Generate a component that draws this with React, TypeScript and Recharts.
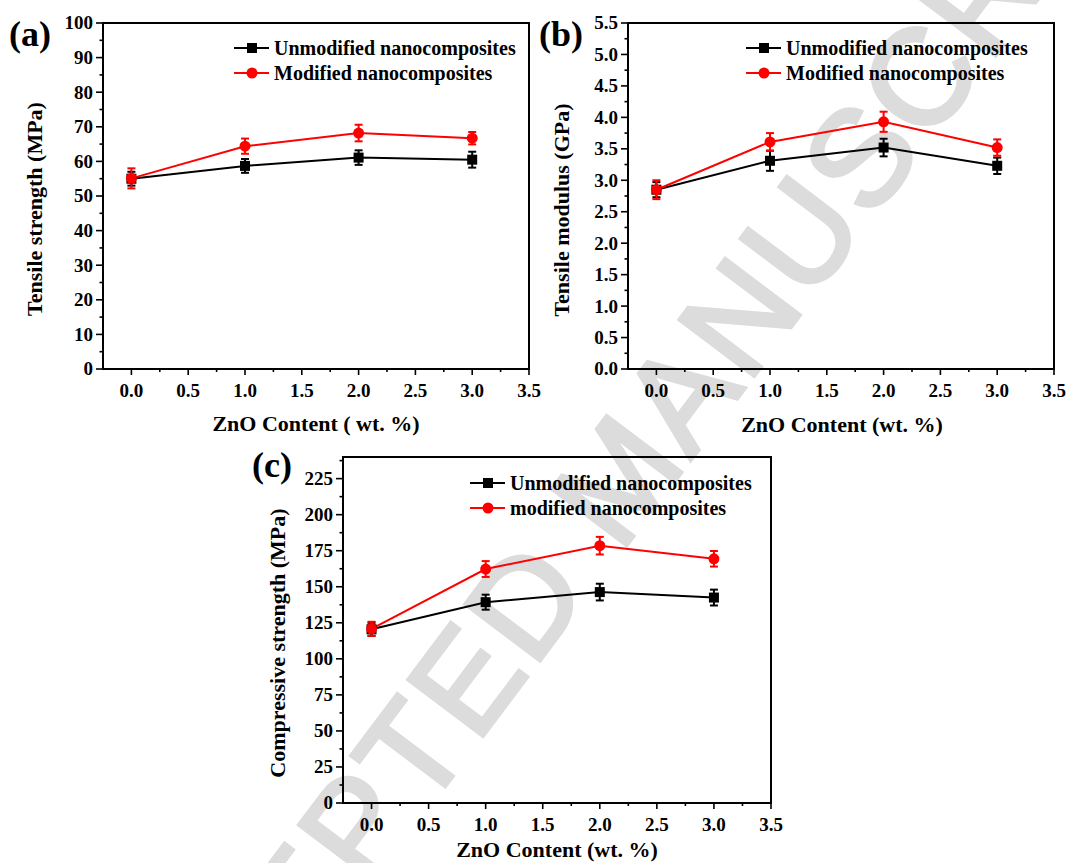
import React from "react";
import { ErrorBar, Legend, Line, LineChart, ReferenceArea, XAxis, YAxis } from "recharts";

// ZnO loading (wt. %)
const ZNO = [0, 1, 2, 3];

// (a) tensile strength, MPa
const TS_UNMOD = [55.0, 58.7, 61.1, 60.5];
const TS_UNMOD_ERR = [2.0, 2.0, 2.1, 2.3];
const TS_MOD = [55.1, 64.4, 68.2, 66.7];
const TS_MOD_ERR = [2.9, 2.2, 2.4, 1.8];

// (b) tensile modulus, GPa
const TM_UNMOD = [2.85, 3.31, 3.52, 3.23];
const TM_UNMOD_ERR = [0.12, 0.16, 0.14, 0.13];
const TM_MOD = [2.85, 3.61, 3.93, 3.52];
const TM_MOD_ERR = [0.15, 0.14, 0.16, 0.13];

// (c) compressive strength, MPa
const CS_UNMOD = [120.5, 139.3, 146.3, 142.5];
const CS_UNMOD_ERR = [4.5, 5.2, 5.8, 5.5];
const CS_MOD = [120.8, 162.3, 178.5, 169.4];
const CS_MOD_ERR = [4.9, 5.5, 6.1, 5.4];

const X_TICKS = [0, 0.25, 0.5, 0.75, 1, 1.25, 1.5, 1.75, 2, 2.25, 2.5, 2.75, 3, 3.25, 3.5];
const X_MAJOR = [0, 0.5, 1, 1.5, 2, 2.5, 3, 3.5];

const TS_TICKS = [0, 5, 10, 15, 20, 25, 30, 35, 40, 45, 50, 55, 60, 65, 70, 75, 80, 85, 90, 95, 100];
const TS_MAJOR = [0, 10, 20, 30, 40, 50, 60, 70, 80, 90, 100];
const TM_TICKS = [0, 0.25, 0.5, 0.75, 1, 1.25, 1.5, 1.75, 2, 2.25, 2.5, 2.75, 3, 3.25, 3.5, 3.75, 4, 4.25, 4.5, 4.75, 5, 5.25, 5.5];
const TM_MAJOR = [0, 0.5, 1, 1.5, 2, 2.5, 3, 3.5, 4, 4.5, 5, 5.5];
const CS_TICKS = [0, 12.5, 25, 37.5, 50, 62.5, 75, 87.5, 100, 112.5, 125, 137.5, 150, 162.5, 175, 187.5, 200, 212.5, 225, 237.5];
const CS_MAJOR = [0, 25, 50, 75, 100, 125, 150, 175, 200, 225];

const SERIF = "'Liberation Serif', 'Times New Roman', serif";
const RED = "#ff0000";

const rows = (u: number[], ue: number[], m: number[], me: number[]) =>
  ZNO.map((x, i) => ({ x, u: u[i], uErr: ue[i], m: m[i], mErr: me[i] }));

const isMajor = (list: number[], v: number) => list.some((m) => Math.abs(m - v) < 1e-9);

function leftTick(major: number[], fmt: (v: number) => string) {
  return (p: any) => {
    const v = p.payload.value;
    const big = isMajor(major, v);
    const len = big ? 7 : 3.5;
    return (
      <g key={`yt-${v}`}>
        <line x1={p.x} x2={p.x - len} y1={p.y} y2={p.y} stroke="#000" strokeWidth={1.6} />
        {big && (
          <text x={p.x - 10} y={p.y} dy="0.34em" textAnchor="end" fontFamily={SERIF} fontWeight="bold" fontSize={19} fill="#000">
            {fmt(v)}
          </text>
        )}
      </g>
    );
  };
}

function bottomTick() {
  return (p: any) => {
    const v = p.payload.value;
    const big = isMajor(X_MAJOR, v);
    const len = big ? 6 : 3;
    return (
      <g key={`xt-${v}`}>
        <line x1={p.x} x2={p.x} y1={p.y} y2={p.y + len} stroke="#000" strokeWidth={1.6} />
        {big && (
          <text x={p.x} y={p.y + 28} textAnchor="middle" fontFamily={SERIF} fontWeight="bold" fontSize={19} fill="#000">
            {v.toFixed(1)}
          </text>
        )}
      </g>
    );
  };
}

const square = (p: any) => (
  <rect key={`sq-${p.index}`} x={p.cx - 5} y={p.cy - 5} width={10} height={10} fill="#000" />
);

function LegendBox({ labels }: { labels: [string, string] }) {
  const txt = { fontFamily: SERIF, fontWeight: "bold" as const, fontSize: 20, fill: "#000" };
  return (
    <svg width={320} height={46} style={{ display: "block", overflow: "visible" }}>
      <line x1={0} x2={35} y1={10} y2={10} stroke="#000" strokeWidth={2} />
      <rect x={13} y={5} width={10} height={10} fill="#000" />
      <text x={40} y={10} dy="0.34em" {...txt}>{labels[0]}</text>
      <line x1={0} x2={35} y1={35} y2={35} stroke={RED} strokeWidth={2} />
      <circle cx={18} cy={35} r={5.5} fill={RED} />
      <text x={40} y={35} dy="0.34em" {...txt}>{labels[1]}</text>
    </svg>
  );
}

type PanelProps = {
  left: number;
  top: number;
  width: number;
  height: number;
  marginTop: number;
  marginRight: number;
  yWidth: number;
  xHeight: number;
  yMax: number;
  yTicks: number[];
  yMajor: number[];
  yFmt: (v: number) => string;
  data: ReturnType<typeof rows>;
  labels: [string, string];
  legendLeft: number;
  legendTop: number;
};

function Panel(p: PanelProps) {
  return (
    <div style={{ position: "absolute", left: p.left, top: p.top }}>
      <LineChart
        width={p.width}
        height={p.height}
        data={p.data}
        margin={{ top: p.marginTop, right: p.marginRight, bottom: 0, left: 0 }}
      >
        <XAxis
          type="number"
          dataKey="x"
          domain={[-0.25, 3.5]}
          ticks={X_TICKS}
          interval={0}
          allowDataOverflow
          height={p.xHeight}
          tickSize={0}
          tickMargin={0}
          tickLine={false}
          axisLine={{ stroke: "#000", strokeWidth: 2 }}
          tick={bottomTick()}
        />
        <YAxis
          type="number"
          domain={[0, p.yMax]}
          ticks={p.yTicks}
          interval={0}
          allowDataOverflow
          width={p.yWidth}
          tickSize={0}
          tickMargin={0}
          tickLine={false}
          axisLine={{ stroke: "#000", strokeWidth: 2 }}
          tick={leftTick(p.yMajor, p.yFmt)}
        />
        <ReferenceArea x1={-0.25} x2={3.5} y1={0} y2={p.yMax} fill="none" stroke="#000" strokeWidth={2} ifOverflow="visible" />
        <Legend
          layout="vertical"
          align="center"
          verticalAlign="middle"
          wrapperStyle={{ left: p.legendLeft, top: p.legendTop, width: 320 }}
          content={() => <LegendBox labels={p.labels} />}
        />
        <Line
          type="linear"
          dataKey="u"
          name={p.labels[0]}
          stroke="#000"
          strokeWidth={2}
          dot={square}
          activeDot={false}
          isAnimationActive={false}
        >
          <ErrorBar dataKey="uErr" direction="y" width={4} stroke="#000" strokeWidth={2} isAnimationActive={false} />
        </Line>
        <Line
          type="linear"
          dataKey="m"
          name={p.labels[1]}
          stroke={RED}
          strokeWidth={2}
          dot={{ r: 5.5, fill: RED, stroke: RED, strokeWidth: 0 }}
          activeDot={false}
          isAnimationActive={false}
        >
          <ErrorBar dataKey="mErr" direction="y" width={4} stroke={RED} strokeWidth={2} isAnimationActive={false} />
        </Line>
      </LineChart>
    </div>
  );
}

const titleStyle = { fontFamily: SERIF, fontWeight: "bold" as const, fill: "#000" };

export default function App() {
  return (
    <div style={{ position: "absolute", left: 0, top: 0, width: 1068, height: 863, background: "#fff", overflow: "hidden" }}>
      <svg width={1068} height={863} style={{ position: "absolute", left: 0, top: 0 }}>
        {/* journal watermark, runs off the page like in the source */}
        <text
          x={620}
          y={476}
          textAnchor="middle"
          dominantBaseline="central"
          transform="rotate(-53 620 476)"
          fontFamily="'Liberation Sans', Arial, sans-serif"
          fontSize={136}
          letterSpacing={4}
          fill="#dcdcdc"
          stroke="#dcdcdc"
          strokeWidth={4}
        >
          ACCEPTED MANUSCRIPT
        </text>
        <text x={9} y={46} fontSize={36} {...titleStyle}>(a)</text>
        <text x={539} y={46} fontSize={36} {...titleStyle}>(b)</text>
        <text x={252} y={477} fontSize={36} {...titleStyle}>(c)</text>
        <text x={34} y={209} textAnchor="middle" dominantBaseline="central" transform="rotate(-90 34 209)" fontSize={22} {...titleStyle}>
          Tensile strength (MPa)
        </text>
        <text x={561} y={210} textAnchor="middle" dominantBaseline="central" transform="rotate(-90 561 210)" fontSize={22} {...titleStyle}>
          Tensile modulus (GPa)
        </text>
        <text x={277} y={643} textAnchor="middle" dominantBaseline="central" transform="rotate(-90 277 643)" fontSize={22} {...titleStyle}>
          Compressive strength (MPa)
        </text>
        <text x={316} y={431} textAnchor="middle" fontSize={22} {...titleStyle}>ZnO Content ( wt. %)</text>
        <text x={842} y={432} textAnchor="middle" fontSize={22} {...titleStyle}>ZnO Content (wt. %)</text>
        <text x={557} y={857} textAnchor="middle" fontSize={22} {...titleStyle}>ZnO Content (wt. %)</text>
      </svg>
      <Panel
        left={0}
        top={0}
        width={545}
        height={440}
        marginTop={23}
        marginRight={16}
        yWidth={103}
        xHeight={71}
        yMax={100}
        yTicks={TS_TICKS}
        yMajor={TS_MAJOR}
        yFmt={(v) => String(v)}
        data={rows(TS_UNMOD, TS_UNMOD_ERR, TS_MOD, TS_MOD_ERR)}
        labels={["Unmodified nanocomposites", "Modified nanocomposites"]}
        legendLeft={234}
        legendTop={38}
      />
      <Panel
        left={540}
        top={0}
        width={528}
        height={440}
        marginTop={23}
        marginRight={14}
        yWidth={88}
        xHeight={71}
        yMax={5.5}
        yTicks={TM_TICKS}
        yMajor={TM_MAJOR}
        yFmt={(v) => v.toFixed(1)}
        data={rows(TM_UNMOD, TM_UNMOD_ERR, TM_MOD, TM_MOD_ERR)}
        labels={["Unmodified nanocomposites", "Modified nanocomposites"]}
        legendLeft={206}
        legendTop={38}
      />
      <Panel
        left={250}
        top={440}
        width={540}
        height={423}
        marginTop={17}
        marginRight={19}
        yWidth={93}
        xHeight={60}
        yMax={240}
        yTicks={CS_TICKS}
        yMajor={CS_MAJOR}
        yFmt={(v) => String(v)}
        data={rows(CS_UNMOD, CS_UNMOD_ERR, CS_MOD, CS_MOD_ERR)}
        labels={["Unmodified nanocomposites", "modified nanocomposites"]}
        legendLeft={220}
        legendTop={33}
      />
    </div>
  );
}
